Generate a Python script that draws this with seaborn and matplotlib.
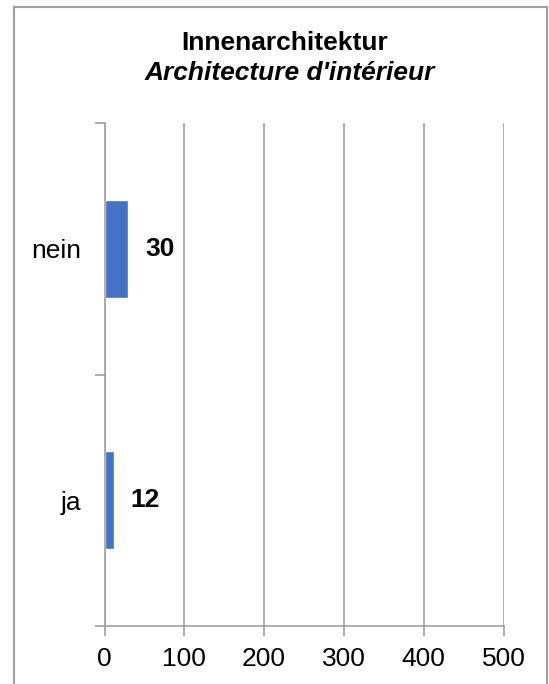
import matplotlib
matplotlib.use("Agg")
import matplotlib.pyplot as plt
import seaborn as sns
import pandas as pd
from matplotlib.patches import Rectangle

categories = ["nein", "ja"]
values = [30, 12]
title_de = "Innenarchitektur"
title_fr = "Architecture d'intérieur"
x_ticks = [0, 100, 200, 300, 400, 500]

sns.set_style("white")
plt.rcParams["font.family"] = ["Liberation Sans", "DejaVu Sans"]
plt.rcParams["text.color"] = "black"
plt.rcParams["xtick.labelcolor"] = "black"
plt.rcParams["ytick.labelcolor"] = "black"

df = pd.DataFrame({"cat": categories, "val": values})

fig = plt.figure(figsize=(5.49, 6.84), dpi=100)
ax = fig.add_axes([104.5 / 549, 1 - 626 / 684, 399 / 549, 503 / 684])

sns.barplot(data=df, x="val", y="cat", order=categories, color="#4472C4",
            saturation=1, width=0.39, ax=ax, orient="h")

ax.set_xlim(0, 500)
ax.set_ylim(1.5, -0.5)
ax.set_xticks(x_ticks)
ax.set_xticklabels([str(t) for t in x_ticks])
ax.set_xlabel("")
ax.set_ylabel("")
ax.grid(axis="x", color="#a0a0a0", linewidth=1.2)
ax.grid(axis="y", visible=False)
ax.set_axisbelow(True)

for s in ["top", "right"]:
    ax.spines[s].set_visible(False)
for s in ["left", "bottom"]:
    ax.spines[s].set_color("#a0a0a0")
    ax.spines[s].set_linewidth(1.2)

ax.tick_params(axis="x", direction="out", length=7, width=1.2, color="#a0a0a0",
               labelsize=19, pad=8, bottom=True, labelcolor="black")
ax.tick_params(axis="y", which="major", length=0, labelsize=19, pad=17,
               labelcolor="black")
ax.set_yticks([-0.5, 0.5, 1.5], minor=True)
ax.tick_params(axis="y", which="minor", direction="out", length=7, width=1.2,
               color="#a0a0a0", left=True)

for cont in ax.containers:
    ax.bar_label(cont, labels=[str(v) for v in values], padding=12,
                 fontsize=19, fontweight="bold", color="black")

fig.text(0.5 * (182 + 387) / 549, 1 - 43 / 684, title_de, ha="center", va="center",
         fontsize=19, fontweight="bold", color="black")
fig.text(0.5 * (150 + 430) / 549, 1 - 73 / 684, title_fr, ha="center", va="center",
         fontsize=19, fontweight="bold", fontstyle="italic", color="black")

fig.patches.append(Rectangle((14 / 549, -0.01), (547 - 14) / 549, (684 - 7) / 684 + 0.01,
                             transform=fig.transFigure, fill=False,
                             edgecolor="#a0a0a0", linewidth=1.5))

fig.savefig("out.png", dpi=100)
